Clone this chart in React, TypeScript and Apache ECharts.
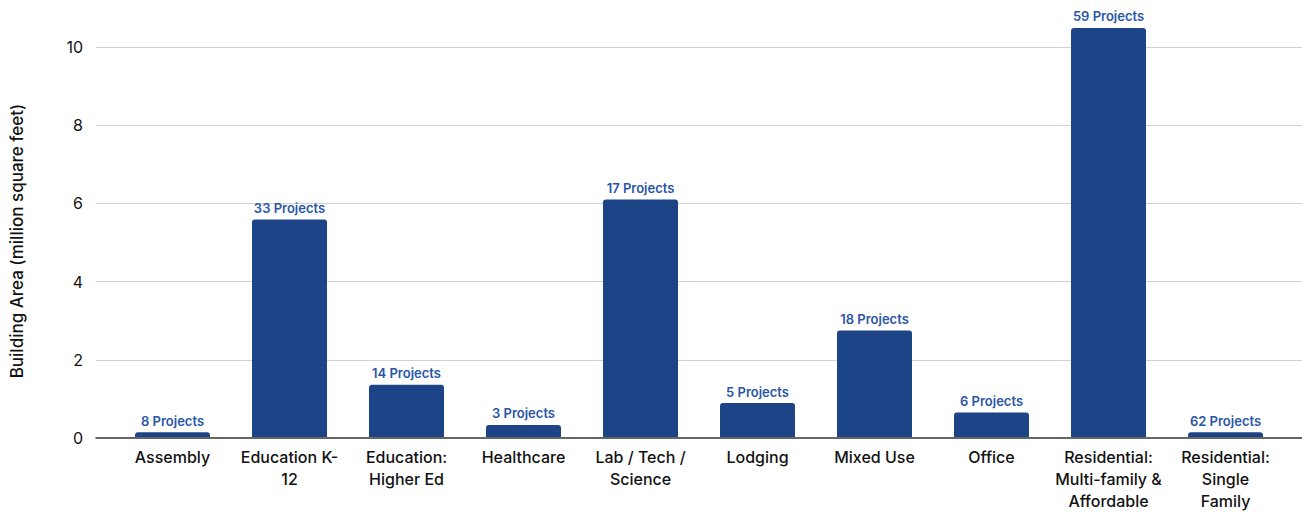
import React, { useEffect, useRef } from "react";
import * as echarts from "echarts";

// Building types along the category axis (line breaks as they wrap under the bars)
const categories = [
  "Assembly",
  "Education K-\n12",
  "Education:\nHigher Ed",
  "Healthcare",
  "Lab / Tech /\nScience",
  "Lodging",
  "Mixed Use",
  "Office",
  "Residential:\nMulti-family &\nAffordable",
  "Residential:\nSingle\nFamily",
];

// Total building area per type, million square feet
const buildingArea = [0.12, 5.58, 1.34, 0.31, 6.09, 0.87, 2.73, 0.63, 10.49, 0.12];

// Number of projects per type
const projectCounts = [8, 33, 14, 3, 17, 5, 18, 6, 59, 62];

const yTitle = "Building Area (million square feet)";

const FONT = "Inter, 'Noto Sans', sans-serif";

export default function App() {
  const ref = useRef<HTMLDivElement>(null);

  useEffect(() => {
    if (!ref.current) return;
    const chart = echarts.init(ref.current, undefined, { renderer: "svg" });

    chart.setOption({
      animation: false,
      backgroundColor: "#ffffff",
      grid: [
        // full-width frame for gridlines, value labels and baseline
        { left: 93, right: 0, top: 8, bottom: 74 },
        // inset band for the category bars
        { left: 114, right: 18, top: 8, bottom: 74 },
      ],
      xAxis: [
        {
          gridIndex: 0,
          type: "value",
          min: 0,
          max: 1,
          axisLine: { show: true, lineStyle: { color: "#333333", width: 1.5 } },
          axisTick: { show: false },
          axisLabel: { show: false },
          splitLine: { show: false },
        },
        {
          gridIndex: 1,
          type: "category",
          data: categories,
          axisLine: { show: false },
          axisTick: { show: false },
          axisLabel: {
            interval: 0,
            margin: 9,
            color: "#111111",
            fontFamily: FONT,
            fontSize: 16,
            lineHeight: 22,
            fontWeight: 500,
            align: "center",
          },
        },
      ],
      yAxis: [
        {
          gridIndex: 0,
          type: "value",
          min: 0,
          max: 11,
          interval: 2,
          name: yTitle,
          nameLocation: "middle",
          nameGap: 71,
          nameTextStyle: {
            color: "#111111",
            fontFamily: FONT,
            fontSize: 17,
            fontWeight: 500,
            padding: [0, 36, 0, 0],
          },
          axisLine: { show: false },
          axisTick: { show: false },
          axisLabel: {
            showMaxLabel: false,
            margin: 13,
            color: "#111111",
            fontFamily: FONT,
            fontSize: 16,
          },
          splitLine: {
            show: true,
            showMaxLine: false,
            showMinLine: false,
            lineStyle: { color: "#d0d0d0", width: 1 },
          },
        },
        {
          gridIndex: 1,
          type: "value",
          min: 0,
          max: 11,
          show: false,
          splitLine: { show: false },
        },
      ],
      series: [
        {
          type: "bar",
          xAxisIndex: 1,
          yAxisIndex: 1,
          data: buildingArea,
          barWidth: 75,
          itemStyle: { color: "#1d4487", borderRadius: [3, 3, 0, 0] },
          label: {
            show: true,
            position: "top",
            distance: 5,
            color: "#2a56a6",
            fontFamily: FONT,
            fontSize: 13,
            fontWeight: 600,
            formatter: (p: any) => `${projectCounts[p.dataIndex]} Projects`,
          },
        },
      ],
    });

    return () => chart.dispose();
  }, []);

  return (
    <div
      ref={ref}
      style={{ position: "fixed", left: 0, top: 0, width: 1302, height: 512 }}
    />
  );
}
